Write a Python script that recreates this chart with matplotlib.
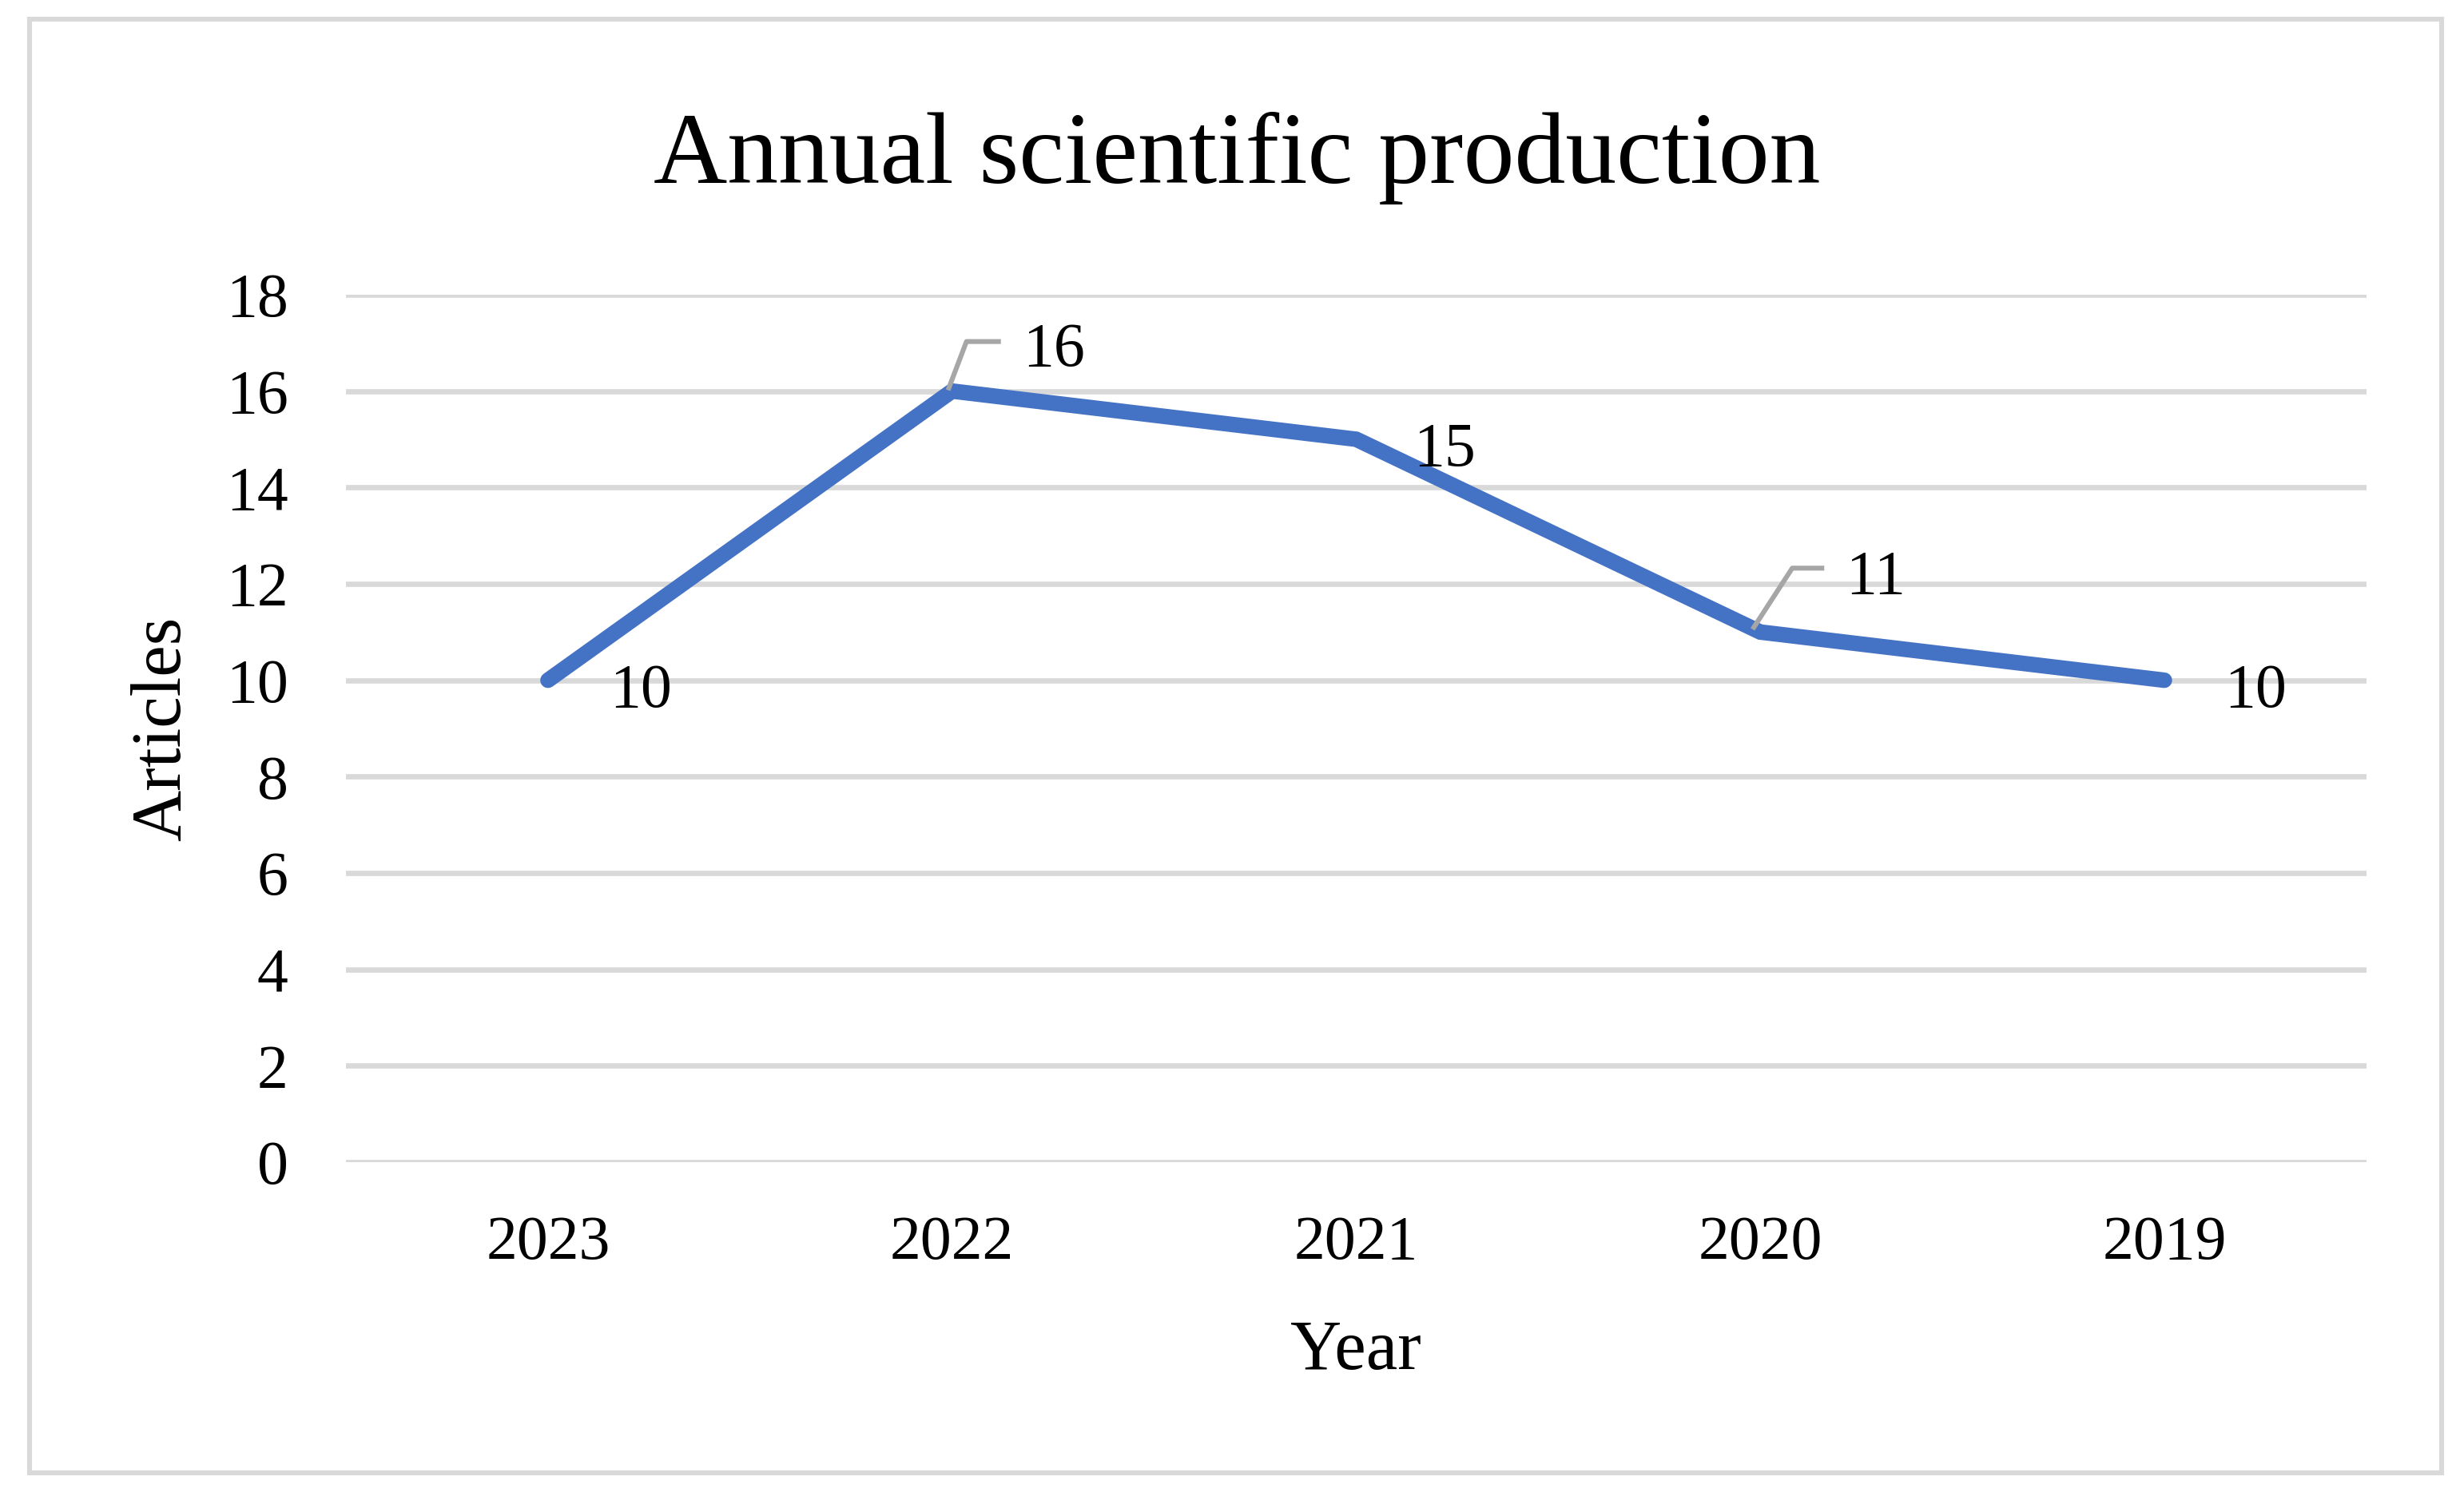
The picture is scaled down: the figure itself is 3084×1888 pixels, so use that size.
import matplotlib.pyplot as plt
from matplotlib.patches import Rectangle
from matplotlib.lines import Line2D

years = ["2023", "2022", "2021", "2020", "2019"]
articles = [10, 16, 15, 11, 10]
y_ticks = [0, 2, 4, 6, 8, 10, 12, 14, 16, 18]

plt.rcParams['font.family'] = ['Liberation Serif', 'DejaVu Serif']

fig = plt.figure(figsize=(15.42, 9.44), dpi=200)
ax = fig.add_axes([0.1404, 0.2293, 0.82, 0.5753])

x = list(range(len(years)))
ax.plot(x, articles, color="#4472C4", linewidth=7.0, solid_capstyle="round",
        solid_joinstyle="miter", zorder=3)

ax.set_xlim(-0.5, len(years) - 0.5)
ax.set_ylim(0, 18)
ax.set_yticks(y_ticks)
ax.set_xticks(x)
ax.set_xticklabels(years)
ax.grid(axis="y", color="#D9D9D9", linewidth=2.4)
ax.set_axisbelow(True)
for s in ax.spines.values():
    s.set_visible(False)
ax.tick_params(axis="both", length=0, labelsize=28)
ax.tick_params(axis="y", pad=26)
ax.tick_params(axis="x", pad=24)

# data labels: (dx, dy) in pixels from the point, plus leader lines for two of them
label_offsets = [(77, -6), (88, 59), (72, -6), (107, 76), (75, -6)]
leaders = {1: [(-4, 4), (18, 62), (58, 62)],
           3: [(-8, 6), (40, 80), (77, 80)]}

inv = fig.transFigure.inverted()
for i, v in enumerate(articles):
    dx, dy = label_offsets[i]
    ax.annotate(str(v), (i, v), xytext=(dx, dy), textcoords="offset pixels",
                ha="left", va="center_baseline", fontsize=28, zorder=5)
    if i in leaders:
        px, py = ax.transData.transform((i, v))
        fpts = [inv.transform((px + p[0], py + p[1])) for p in leaders[i]]
        fig.add_artist(Line2D([p[0] for p in fpts], [p[1] for p in fpts],
                              color="#A6A6A6", linewidth=2.2, zorder=4))

fig.text(0.502, 0.895, "Annual scientific production", ha="center", va="center",
         fontsize=46)
ax.set_xlabel("Year", fontsize=32, labelpad=21)
fig.text(0.066, 0.5168, "Articles", rotation=90, ha="center", va="center", fontsize=32)

fig.add_artist(Rectangle((0.012, 0.0233), 0.979, 0.964, transform=fig.transFigure,
                         fill=False, edgecolor="#D9D9D9", linewidth=2.2))

fig.savefig("out.png", dpi=200)
